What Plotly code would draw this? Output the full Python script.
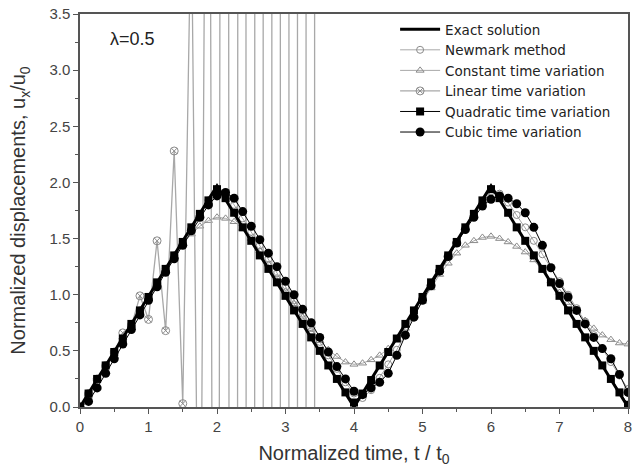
import plotly.graph_objects as go

# time grid (normalized time t/t0), step 0.125
t = [i * 0.125 for i in range(65)]

# exact solution vertices
t_exact = [0, 2, 4, 6, 8]
u_exact = [0, 1.97, 0, 1.97, 0]

newmark = [0, 0.12, 0.24, 0.37, 0.49, 0.61, 0.74, 0.86, 0.98, 1.10, 1.23, 1.35, 1.47, 1.59, 1.72, 1.84, 1.93,
           1.90, 1.80, 1.68, 1.56, 1.44, 1.32, 1.19, 1.07, 0.95, 0.83, 0.71, 0.58, 0.46, 0.34, 0.22, 0.12,
           0.08, 0.15, 0.26, 0.38, 0.51, 0.65, 0.85, 0.97, 1.10, 1.22, 1.34, 1.46, 1.58, 1.70, 1.82, 1.92,
           1.90, 1.82, 1.71, 1.60, 1.48, 1.36, 1.24, 1.12, 1.00, 0.88, 0.76, 0.64, 0.52, 0.40, 0.28, 0.16]

constant = [0, 0.12, 0.25, 0.37, 0.49, 0.62, 0.74, 0.86, 0.98, 1.10, 1.22, 1.34, 1.45, 1.54, 1.61, 1.66, 1.69,
            1.68, 1.65, 1.59, 1.50, 1.39, 1.27, 1.15, 1.03, 0.92, 0.80, 0.69, 0.59, 0.51, 0.45, 0.40, 0.38,
            0.39, 0.42, 0.46, 0.52, 0.60, 0.70, 0.82, 0.94, 1.06, 1.18, 1.28, 1.37, 1.44, 1.48, 1.51, 1.52,
            1.50, 1.47, 1.43, 1.38, 1.31, 1.22, 1.12, 1.02, 0.93, 0.85, 0.77, 0.70, 0.64, 0.60, 0.57, 0.56]

linear = [0, 0.12, 0.25, 0.37, 0.49, 0.66, 0.72, 0.99, 0.78, 1.48, 0.68, 2.28, 0.03,
          4.5, -3, 10, -15, 40, -60, 90, -135, 202, -304, 456, -683, 1025, -1538, 2307, -3460] + [None] * 36

quadratic = [0, 0.12, 0.25, 0.37, 0.49, 0.61, 0.74, 0.86, 0.98, 1.11, 1.23, 1.35, 1.47, 1.60, 1.72, 1.84, 1.94,
             1.86, 1.73, 1.60, 1.48, 1.35, 1.23, 1.11, 0.99, 0.86, 0.74, 0.62, 0.50, 0.37, 0.25, 0.13, 0.04,
             0.12, 0.24, 0.37, 0.49, 0.61, 0.74, 0.86, 0.98, 1.11, 1.23, 1.35, 1.47, 1.60, 1.72, 1.84, 1.94,
             1.86, 1.73, 1.60, 1.48, 1.35, 1.23, 1.11, 0.99, 0.86, 0.74, 0.62, 0.50, 0.37, 0.25, 0.13, 0.02]

cubic = [0, 0.05, 0.17, 0.30, 0.43, 0.56, 0.69, 0.82, 0.95, 1.07, 1.20, 1.32, 1.44, 1.57, 1.69, 1.80, 1.88,
         1.91, 1.86, 1.74, 1.61, 1.49, 1.37, 1.25, 1.12, 1.00, 0.87, 0.75, 0.62, 0.49, 0.36, 0.25, 0.14,
         0.11, 0.17, 0.22, 0.30, 0.46, 0.64, 0.80, 0.95, 1.08, 1.21, 1.34, 1.46, 1.58, 1.69, 1.79, 1.85,
         1.88, 1.86, 1.81, 1.73, 1.60, 1.44, 1.24, 1.10, 0.98, 0.86, 0.74, 0.62, 0.52, 0.43, 0.29, 0.13]

FONT = "Liberation Sans, Arial, sans-serif"
LEG_FONT = "DejaVu Sans, sans-serif"
GRAY_LINE = "#a8a8a8"
GRAY_MARK = "#8a8a8a"

fig = go.Figure()

fig.add_trace(go.Scatter(x=t, y=newmark, name="Newmark method", mode="lines+markers", legendrank=2,
                         line=dict(color=GRAY_LINE, width=1),
                         marker=dict(symbol="circle-open", size=7, color=GRAY_MARK, line=dict(width=1))))
fig.add_trace(go.Scatter(x=t, y=constant, name="Constant time variation", mode="lines+markers", legendrank=3,
                         line=dict(color=GRAY_LINE, width=1),
                         marker=dict(symbol="triangle-up-open", size=7, color=GRAY_MARK, line=dict(width=1))))
fig.add_trace(go.Scatter(x=t, y=linear, name="Linear time variation", mode="lines+markers", legendrank=4,
                         line=dict(color=GRAY_LINE, width=1.3),
                         marker=dict(symbol="circle-x-open", size=8, color=GRAY_MARK, line=dict(width=1))))
fig.add_trace(go.Scatter(x=t, y=quadratic, name="Quadratic time variation", mode="lines+markers", legendrank=5,
                         line=dict(color="black", width=1),
                         marker=dict(symbol="square", size=8, color="black")))
fig.add_trace(go.Scatter(x=t, y=cubic, name="Cubic time variation", mode="lines+markers", legendrank=6,
                         line=dict(color="black", width=1),
                         marker=dict(symbol="circle", size=9, color="black")))
fig.add_trace(go.Scatter(x=t_exact, y=u_exact, name="Exact solution", mode="lines", legendrank=1,
                         line=dict(color="black", width=3)))

axis_common = dict(showline=True, linecolor="#555555", linewidth=1.5, mirror=True,
                   ticks="outside", ticklen=5, tickwidth=1.2, tickcolor="#555555",
                   showgrid=False, zeroline=False, ticklabeloverflow="allow",
                   tickfont=dict(family=FONT, size=15, color="#444444"))

fig.update_xaxes(range=[0, 8], dtick=1, tick0=0,
                 minor=dict(ticks="outside", ticklen=3, dtick=0.5, tickcolor="#555555"),
                 title=dict(text="Normalized time, t / t<sub>0</sub>", font=dict(family=FONT, size=20, color="#333333"),
                            standoff=13),
                 **axis_common)
fig.update_yaxes(range=[0, 3.5], dtick=0.5, tick0=0, tickformat=".1f",
                 minor=dict(ticks="outside", ticklen=3, dtick=0.25, tickcolor="#555555"),
                 title=dict(text="Normalized displacements, u<sub>x</sub>/u<sub>0</sub>",
                            font=dict(family=FONT, size=20, color="#333333"), standoff=18),
                 **axis_common)

fig.add_annotation(x=0.76, y=3.28, xref="x", yref="y", text="λ=0.5", showarrow=False,
                   font=dict(family=FONT, size=18, color="#222222"))

fig.update_layout(
    width=637, height=467,
    margin=dict(l=80, r=7, t=5, b=60),
    paper_bgcolor="white", plot_bgcolor="white",
    legend=dict(x=0.575, y=1.0, xanchor="left", yanchor="top", bgcolor="rgba(0,0,0,0)",
                font=dict(family=LEG_FONT, size=13.5, color="#222222"), itemwidth=40,
                tracegroupgap=0),
    showlegend=True,
)

fig.write_html("out.html")
